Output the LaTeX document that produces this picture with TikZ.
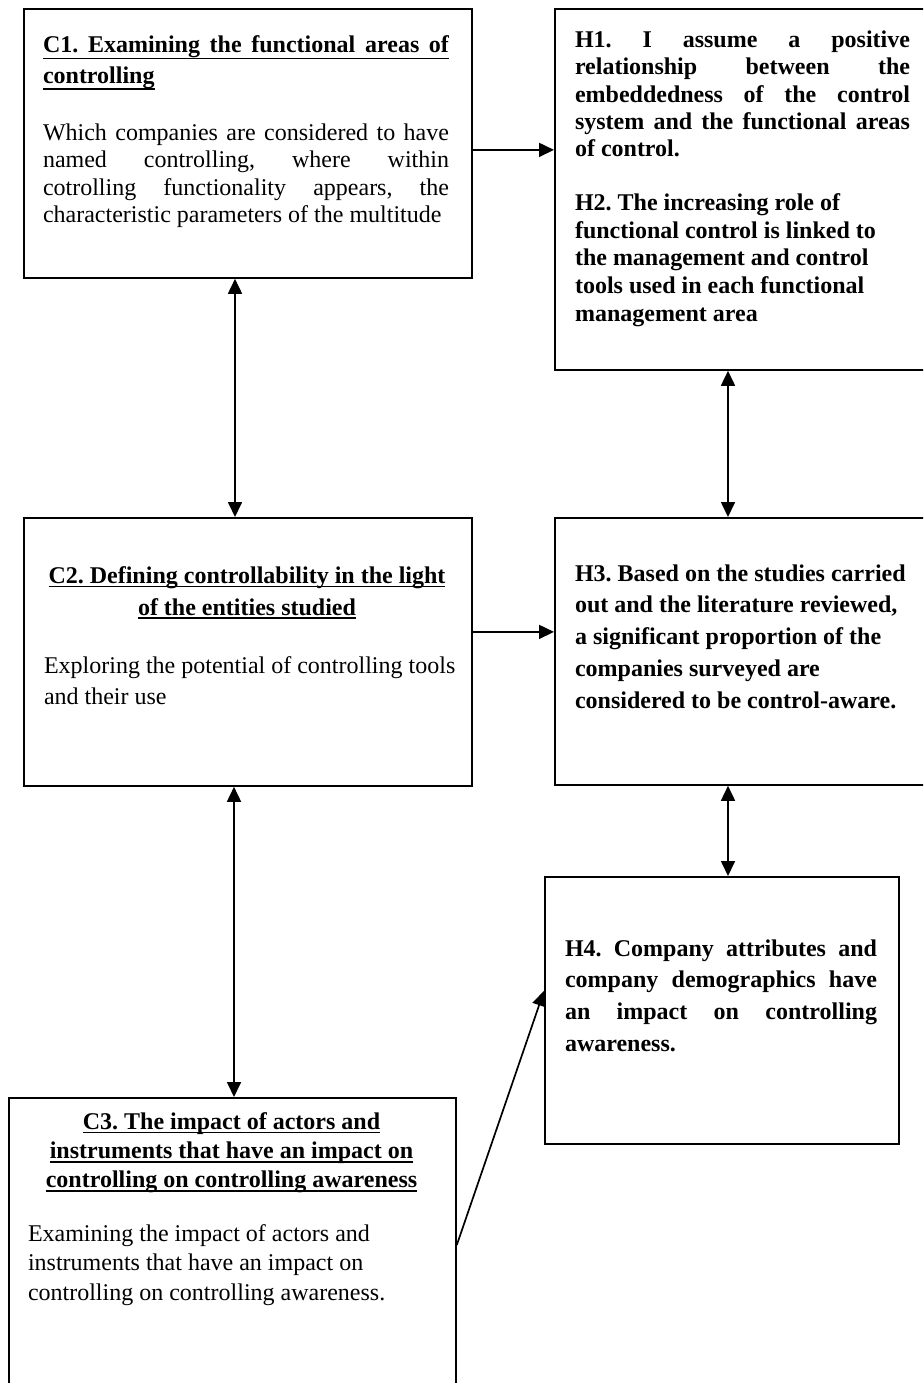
\documentclass[tikz,border=0pt]{standalone}
\usepackage{fontspec}
\setmainfont{Liberation Serif}
\usetikzlibrary{arrows.meta,calc}
\frenchspacing
\newcommand\jl[1]{\leavevmode\makebox[\linewidth][s]{#1}}
\newcommand\ujl[2]{\leavevmode\rlap{\rule[-#1]{\linewidth}{1.8pt}}\makebox[\linewidth][s]{#2}}
\newcommand\ulfix[2]{\leavevmode\setbox0=\hbox{#2}\rlap{\rule[-#1]{\wd0}{1.8pt}}\box0}
\begin{document}
\begin{tikzpicture}[x=1pt,y=-1pt,
  box/.style={draw, line width=1.8pt, inner sep=0pt, anchor=north west},
  arr/.style={line width=1.7pt, -{Triangle[length=15pt,width=14pt]}},
  dbl/.style={line width=1.7pt, {Triangle[length=15pt,width=14pt]}-{Triangle[length=15pt,width=14pt]}},
  txt/.style={inner sep=0pt, outer sep=0pt, anchor=base west}]
\useasboundingbox (0,0) rectangle (923,1383);
\clip (0,0) rectangle (923,1383);
% boxes
\node[box, minimum width=448pt, minimum height=269pt] (c1) at (23,8) {};
\node[box, minimum width=381pt, minimum height=361pt] (h1) at (554,8) {};
\node[box, minimum width=448pt, minimum height=268pt] (c2) at (23,517) {};
\node[box, minimum width=381pt, minimum height=267pt] (h3) at (554,517) {};
\node[box, minimum width=354pt, minimum height=267pt] (h4) at (544,876) {};
\node[box, minimum width=447pt, minimum height=323pt] (c3) at (8,1097) {};
% texts
\node[txt] (c1h) at (43,52.7) {\parbox[t]{406pt}{\bfseries\fontsize{24}{30.6}\selectfont
  \ujl{6.8pt}{C1. Examining the functional areas of}\\
  \ulfix{6.8pt}{controlling}}};
\node[txt] (c1b) at (43,140.7) {\parbox[t]{406pt}{\fontsize{24}{27.3}\selectfont
  \jl{Which companies are considered to have}\\
  \jl{named controlling, where within}\\
  \jl{cotrolling functionality appears, the}\\
  characteristic parameters of the multitude}};
\node[txt] (h1t) at (575,47.7) {\parbox[t]{335pt}{\bfseries\fontsize{24}{27.3}\selectfont
  \jl{H1. I assume a positive}\\
  \jl{relationship between the}\\
  \jl{embeddedness of the control}\\
  \jl{system and the functional areas}\\
  of control.}};
\node[txt] (h2t) at (575,210.7) {\parbox[t]{340pt}{\raggedright\bfseries\fontsize{24}{27.6}\selectfont
  H2. The increasing role of\\
  functional control is linked to\\
  the management and control\\
  tools used in each functional\\
  management area}};
\node[txt] (c2h) at (23,583.3) {\parbox[t]{448pt}{\centering\bfseries\fontsize{24}{31.7}\selectfont
  \ulfix{4pt}{C2. Defining controllability in the light}\\
  \ulfix{4pt}{of the entities studied}}};
\node[txt] (c2b) at (44,673.3) {\parbox[t]{420pt}{\raggedright\fontsize{24}{30.7}\selectfont
  Exploring the potential of controlling tools\\
  and their use}};
\node[txt] (h3t) at (575,581) {\parbox[t]{340pt}{\raggedright\bfseries\fontsize{24}{31.8}\selectfont
  H3. Based on the studies carried\\
  out and the literature reviewed,\\
  a significant proportion of the\\
  companies surveyed are\\
  considered to be control-aware.}};
\node[txt] (h4t) at (565,956) {\parbox[t]{312pt}{\bfseries\fontsize{24}{31.7}\selectfont
  \jl{H4. Company attributes and}\\
  \jl{company demographics have}\\
  \jl{an impact on controlling}\\
  awareness.}};
\node[txt] (c3h) at (8,1129.3) {\parbox[t]{447pt}{\centering\bfseries\fontsize{24}{29.2}\selectfont
  \ulfix{4pt}{C3. The impact of actors and}\\
  \ulfix{4pt}{instruments that have an impact on}\\
  \ulfix{4pt}{controlling on controlling awareness}}};
\node[txt] (c3b) at (28,1241.7) {\parbox[t]{420pt}{\raggedright\fontsize{24}{29.2}\selectfont
  Examining the impact of actors and\\
  instruments that have an impact on\\
  controlling on controlling awareness.}};
% connectors
\coordinate (ax) at (235,0);
\coordinate (bx) at (728,0);
\coordinate (cx) at (234,0);
\draw[arr] ([yshift=-6.5pt]c1.east) -- ([yshift=-6.5pt]c1.east -| h1.west);
\draw[dbl] (c1.south -| ax) -- (c2.north -| ax);
\draw[dbl] (h1.south -| bx) -- (h3.north -| bx);
\draw[arr] ([yshift=20pt]c2.east) -- ([yshift=20pt]c2.east -| h3.west);
\draw[dbl] (h3.south -| bx) -- (h4.north -| bx);
\draw[dbl] (c2.south -| cx) -- (c3.north -| cx);
\draw[arr] ($(c3.north east)+(0,148)$) -- ([yshift=19.5pt]h4.west);
\end{tikzpicture}
\end{document}
